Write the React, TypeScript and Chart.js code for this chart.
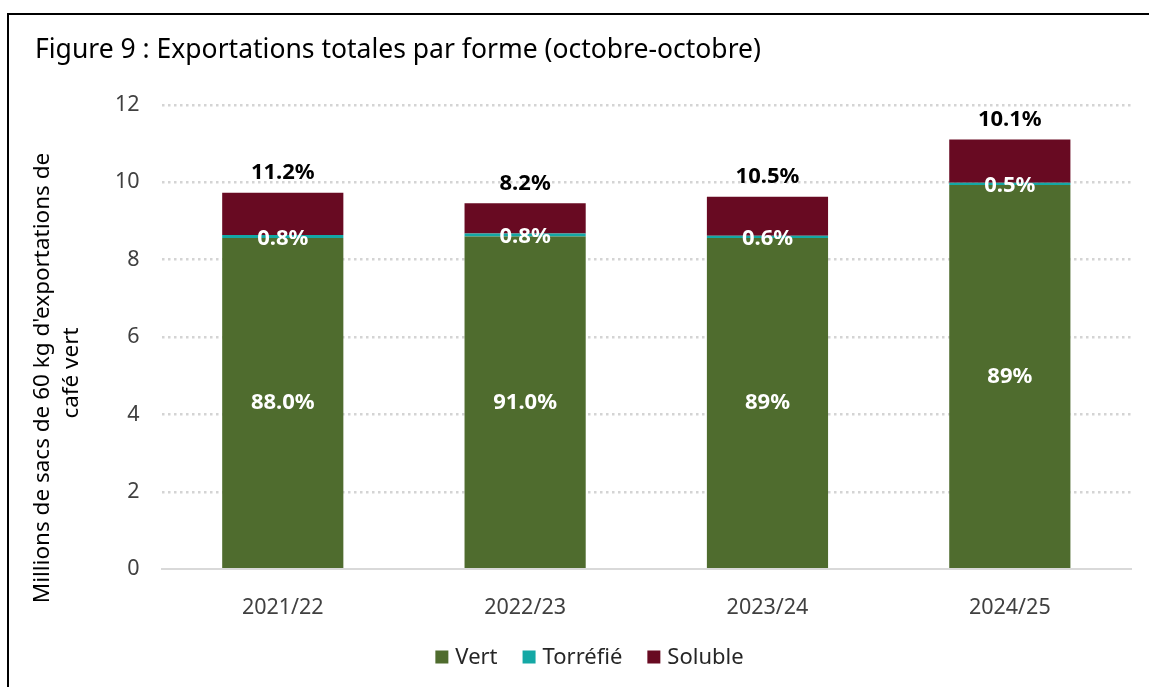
import React, { useEffect, useRef } from "react";
import { Chart, registerables } from "chart.js";

Chart.register(...registerables);

const categories = ["2021/22", "2022/23", "2023/24", "2024/25"];
const seriesNames = ["Vert", "Torréfié", "Soluble"];
const vertValues = [8.56, 8.6, 8.56, 9.93];
const torrefieValues = [0.08, 0.08, 0.06, 0.06];
const solubleValues = [1.09, 0.78, 1.01, 1.12];
const vertLabels = ["88.0%", "91.0%", "89%", "89%"];
const torrefieLabels = ["0.8%", "0.8%", "0.6%", "0.5%"];
const solubleLabels = ["11.2%", "8.2%", "10.5%", "10.1%"];
const yTicks = [0, 2, 4, 6, 8, 10, 12];
const yTitleLines = ["Millions de sacs de 60 kg d'exportations de", "café vert"];
const titleText = "Figure 9 : Exportations totales par forme (octobre-octobre)";

const FONT = "'Noto Sans', 'Open Sans', sans-serif";
const GREEN = "#4f6c2e";
const TEAL = "#14a8a5";
const MAROON = "#680a22";

const labelPlugin = {
  id: "barLabels",
  afterDatasetsDraw(chart: any) {
    const ctx = chart.ctx;
    const mVert = chart.getDatasetMeta(0);
    const mTorr = chart.getDatasetMeta(1);
    const mSol = chart.getDatasetMeta(2);
    ctx.save();
    ctx.textAlign = "center";
    ctx.textBaseline = "middle";
    ctx.font = `bold 22px ${FONT}`;
    categories.forEach((_, i) => {
      const bv = mVert.data[i];
      const bt = mTorr.data[i];
      const bs = mSol.data[i];
      ctx.fillStyle = "#ffffff";
      ctx.fillText(vertLabels[i], bv.x, (bv.y + bv.base) / 2);
      ctx.fillText(torrefieLabels[i], bt.x, (bt.y + bt.base) / 2 + 2);
      ctx.fillStyle = "#000000";
      ctx.fillText(solubleLabels[i], bs.x, bs.y - 20);
    });
    ctx.restore();
  },
};

const textPlugin = {
  id: "titles",
  afterDraw(chart: any) {
    const ctx = chart.ctx;
    ctx.save();
    ctx.fillStyle = "#000000";
    ctx.textBaseline = "middle";
    ctx.textAlign = "left";
    ctx.font = `26.5px ${FONT}`;
    ctx.fillText(titleText, 35, 50);
    ctx.font = `22.5px ${FONT}`;
    ctx.textAlign = "center";
    ctx.translate(43, 378);
    ctx.rotate(-Math.PI / 2);
    yTitleLines.forEach((line, i) => {
      ctx.fillText(line, i * 5, i * 29);
    });
    ctx.restore();
  },
};

const legendPlugin = {
  id: "customLegend",
  afterDraw(chart: any) {
    const ctx = chart.ctx;
    ctx.save();
    ctx.font = `22px ${FONT}`;
    ctx.textBaseline = "middle";
    ctx.textAlign = "left";
    const box = 13;
    const gapBox = 7;
    const gapItem = 25;
    const items = chart.data.datasets.map((d: any) => ({
      text: d.label,
      color: d.backgroundColor,
      w: ctx.measureText(d.label).width,
    }));
    const total = items.reduce((s: number, it: any) => s + box + gapBox + it.w, 0) + gapItem * (items.length - 1);
    let x = chart.width / 2 + 15 - total / 2;
    const y = 657;
    items.forEach((it: any) => {
      ctx.fillStyle = it.color;
      ctx.fillRect(x, y - box / 2, box, box);
      x += box + gapBox;
      ctx.fillStyle = "#262626";
      ctx.fillText(it.text, x, y + 1);
      x += it.w + gapItem;
    });
    ctx.restore();
  },
};

export default function App() {
  const ref = useRef<HTMLCanvasElement | null>(null);
  useEffect(() => {
    if (!ref.current) return;
    const chart = new Chart(ref.current, {
      type: "bar",
      data: {
        labels: categories,
        datasets: [
          { label: seriesNames[0], data: vertValues, backgroundColor: GREEN },
          { label: seriesNames[1], data: torrefieValues, backgroundColor: TEAL },
          { label: seriesNames[2], data: solubleValues, backgroundColor: MAROON },
        ],
      },
      options: {
        animation: false,
        responsive: false,
        maintainAspectRatio: false,
        layout: { padding: { left: 93, right: 18, top: 105, bottom: 48 } },
        datasets: { bar: { barPercentage: 0.5, categoryPercentage: 1 } } as any,
        plugins: {
          title: { display: false },
          legend: { display: false },
          tooltip: { enabled: false },
        },
        scales: {
          x: {
            stacked: true,
            grid: { display: false },
            border: { display: true, color: "#d9d9d9", width: 2 },
            ticks: { color: "#404040", font: { family: FONT, size: 21.5 }, padding: 18 },
          },
          y: {
            stacked: true,
            min: 0,
            max: 12,
            afterBuildTicks: (axis: any) => {
              axis.ticks = yTicks.map((v) => ({ value: v }));
            },
            grid: {
              color: (c: any) => (c.tick && c.tick.value === 0 ? "rgba(0,0,0,0)" : "#d4d4d4"),
              lineWidth: 2.5,
              drawTicks: false,
            },
            border: { display: false, dash: [2.5, 3.5] },
            ticks: { color: "#404040", font: { family: FONT, size: 21.5 }, padding: 22 },
          },
        },
      },
      plugins: [labelPlugin, textPlugin, legendPlugin],
    });
    return () => chart.destroy();
  }, []);

  return (
    <div style={{ position: "absolute", left: 0, top: 0, width: 1149, height: 687, background: "#fff" }}>
      <div
        style={{
          position: "absolute",
          left: 7,
          top: 13,
          width: 1160,
          height: 700,
          borderLeft: "2px solid #000",
          borderTop: "2px solid #000",
        }}
      />
      <canvas ref={ref} width={1149} height={687} style={{ position: "absolute", left: 0, top: 0 }} />
    </div>
  );
}
